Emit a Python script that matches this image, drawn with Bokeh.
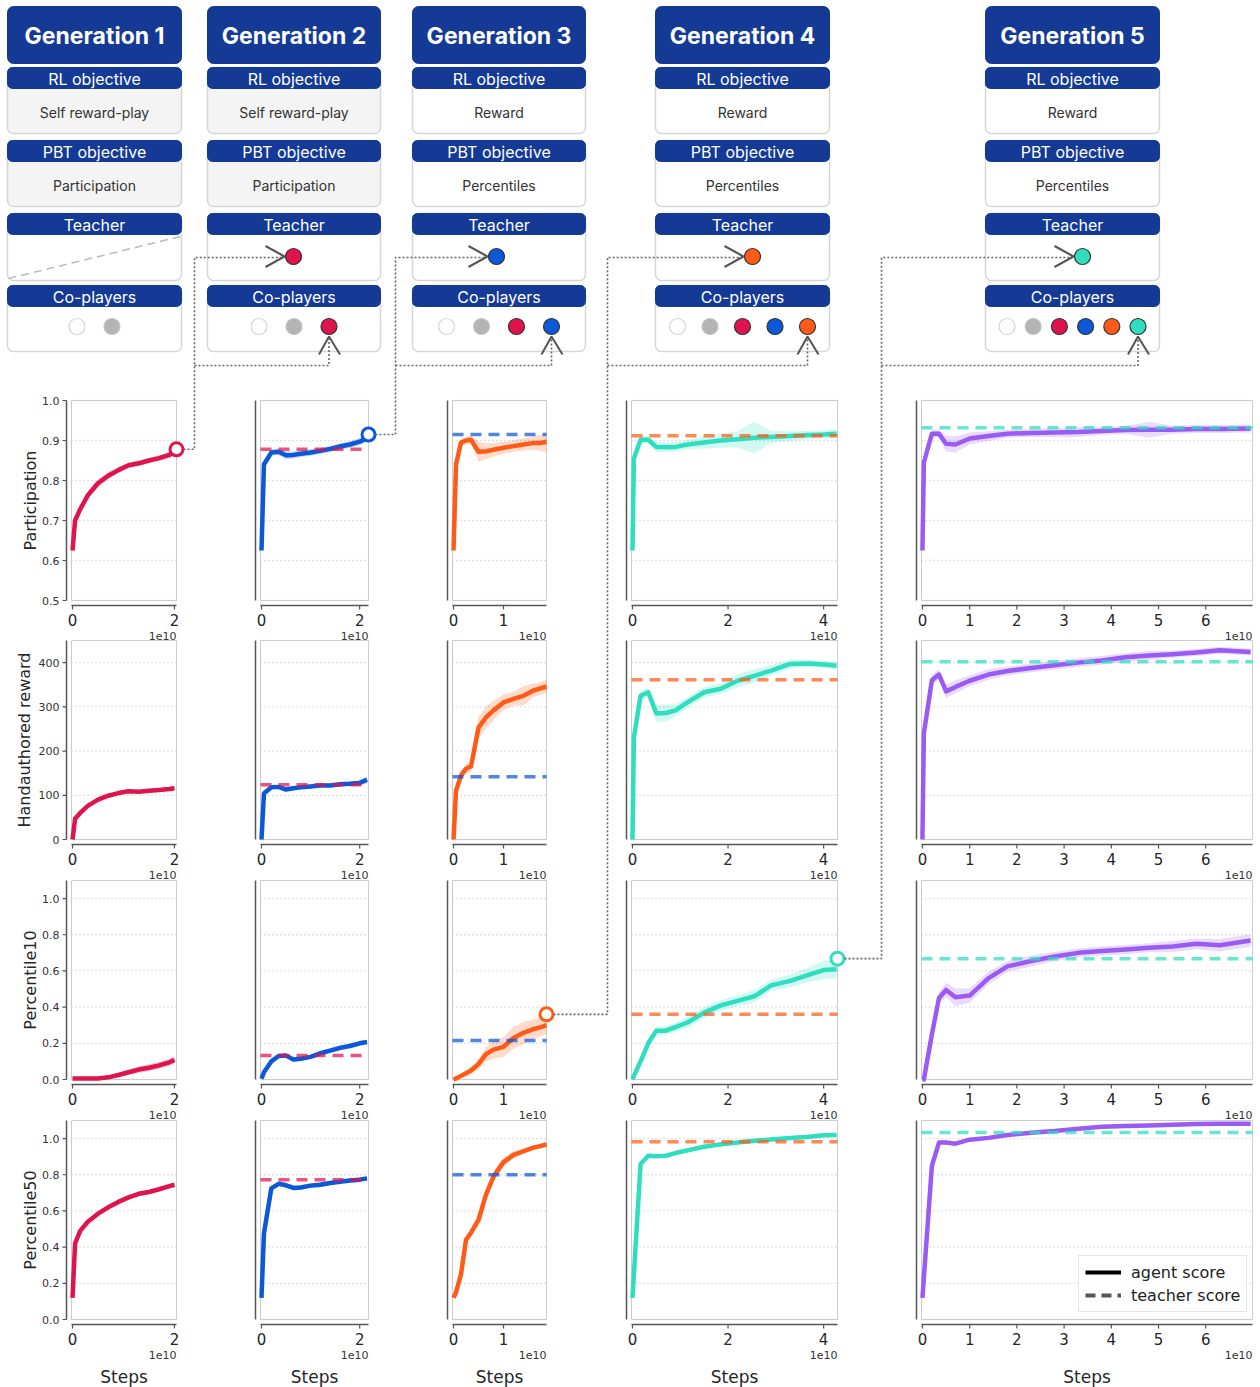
import math
from bokeh.plotting import figure
from bokeh.models import Range1d, Legend, LegendItem
from bokeh.core.properties import value
from bokeh.embed import file_html
from bokeh.resources import INLINE

# ---------------------------------------------------------------- data
GENERATIONS = ["Generation 1", "Generation 2", "Generation 3", "Generation 4", "Generation 5"]
RL_OBJECTIVE = ["Self reward-play", "Self reward-play", "Reward", "Reward", "Reward"]
PBT_OBJECTIVE = ["Participation", "Participation", "Percentiles", "Percentiles", "Percentiles"]
SECTION_TITLES = ["RL objective", "PBT objective", "Teacher", "Co-players"]
METRICS = ["Participation", "Handauthored reward", "Percentile10", "Percentile50"]
GEN_COLORS = ["#E0144C", "#0B58D9", "#FF5A17", "#2FDDBF", "#9A5AF4"]
COPLAYER_COLORS = ["#FFFFFF", "#B4B4B4", "#E0144C", "#0B58D9", "#FF5A17", "#2FDDBF"]
LEGEND_LABELS = ["agent score", "teacher score"]

# steps in units of 1e10
X_G1 = [0, 0.05, 0.15, 0.3, 0.5, 0.7, 0.9, 1.1, 1.3, 1.5, 1.7, 1.9, 2.0]
X_G2 = [0, 0.05, 0.2, 0.35, 0.5, 0.65, 0.8, 1.0, 1.2, 1.4, 1.6, 1.8, 2.0, 2.15]
X_G3 = [0, 0.05, 0.15, 0.25, 0.35, 0.5, 0.65, 0.8, 1.0, 1.2, 1.4, 1.6, 1.75, 1.86]
X_G4 = [0, 0.03, 0.17, 0.33, 0.5, 0.7, 0.9, 1.15, 1.5, 1.85, 2.2, 2.55, 2.9, 3.3, 3.7, 4.0, 4.27]
X_G5 = [0, 0.03, 0.2, 0.35, 0.5, 0.7, 1.0, 1.4, 1.8, 2.3, 2.8, 3.3, 3.8, 4.3, 4.8, 5.3, 5.8, 6.3, 6.95]

G1_PART = [0.625, 0.70, 0.728, 0.763, 0.793, 0.812, 0.826, 0.838, 0.843, 0.85, 0.856, 0.864, 0.87]
G1_PART_SD = [0.004, 0.006, 0.008, 0.009, 0.01, 0.009, 0.008, 0.007, 0.007, 0.007, 0.007, 0.008, 0.008]
G1_REW = [0, 47, 60, 76, 90, 99, 105, 109, 108, 110, 112, 114, 116]
G1_REW_SD = [1, 3, 4, 4, 5, 4, 4, 4, 4, 4, 4, 4, 5]
G1_P10 = [0.005, 0.005, 0.005, 0.005, 0.006, 0.012, 0.025, 0.04, 0.055, 0.065, 0.078, 0.095, 0.108]
G1_P10_SD = [0.002, 0.002, 0.002, 0.002, 0.003, 0.006, 0.01, 0.014, 0.018, 0.02, 0.02, 0.02, 0.02]
G1_P50 = [0.12, 0.42, 0.49, 0.54, 0.585, 0.62, 0.65, 0.675, 0.695, 0.705, 0.72, 0.737, 0.745]
G1_P50_SD = [0.005, 0.01, 0.012, 0.012, 0.014, 0.014, 0.013, 0.012, 0.012, 0.012, 0.012, 0.012, 0.012]

G2_PART = [0.625, 0.84, 0.87, 0.872, 0.863, 0.864, 0.867, 0.87, 0.874, 0.879, 0.885, 0.89, 0.897, 0.906]
G2_PART_SD = [0.004, 0.008, 0.008, 0.008, 0.01, 0.009, 0.008, 0.008, 0.008, 0.008, 0.008, 0.008, 0.009, 0.009]
G2_REW = [0, 104, 118, 119, 113, 116, 118, 120, 122, 122, 125, 126, 128, 135]
G2_REW_SD = [1, 5, 4, 4, 4, 4, 4, 4, 4, 4, 4, 5, 6, 8]
G2_P10 = [0.005, 0.04, 0.10, 0.13, 0.132, 0.11, 0.115, 0.125, 0.145, 0.16, 0.175, 0.185, 0.2, 0.207]
G2_P10_SD = [0.003, 0.008, 0.01, 0.01, 0.01, 0.01, 0.01, 0.012, 0.012, 0.014, 0.015, 0.014, 0.012, 0.01]
G2_P50 = [0.12, 0.475, 0.725, 0.75, 0.742, 0.727, 0.73, 0.74, 0.745, 0.755, 0.762, 0.768, 0.773, 0.78]
G2_P50_SD = [0.005, 0.01, 0.012, 0.012, 0.012, 0.012, 0.012, 0.012, 0.012, 0.012, 0.012, 0.012, 0.012, 0.012]

G3_PART = [0.625, 0.84, 0.895, 0.9, 0.902, 0.872, 0.873, 0.877, 0.882, 0.886, 0.89, 0.894, 0.894, 0.897]
G3_PART_SD = [0.004, 0.01, 0.01, 0.01, 0.01, 0.025, 0.02, 0.017, 0.015, 0.015, 0.015, 0.017, 0.02, 0.025]
G3_REW = [0, 110, 145, 160, 165, 253, 276, 292, 310, 318, 325, 337, 342, 346]
G3_REW_SD = [2, 10, 10, 10, 12, 25, 25, 22, 18, 15, 22, 15, 15, 15]
G3_P10 = [0.0, 0.005, 0.02, 0.035, 0.05, 0.085, 0.14, 0.165, 0.18, 0.23, 0.258, 0.278, 0.29, 0.30]
G3_P10_SD = [0.002, 0.005, 0.01, 0.015, 0.02, 0.03, 0.04, 0.05, 0.055, 0.06, 0.06, 0.055, 0.05, 0.05]
G3_P50 = [0.12, 0.15, 0.25, 0.44, 0.48, 0.55, 0.69, 0.79, 0.87, 0.91, 0.93, 0.95, 0.96, 0.967]
G3_P50_SD = [0.005, 0.01, 0.015, 0.02, 0.02, 0.03, 0.03, 0.03, 0.025, 0.02, 0.015, 0.012, 0.012, 0.012]

G4_PART = [0.625, 0.855, 0.902, 0.902, 0.884, 0.883, 0.884, 0.89, 0.895, 0.9, 0.903, 0.907, 0.909, 0.911, 0.914, 0.915, 0.917]
G4_PART_SD = [0.004, 0.01, 0.01, 0.01, 0.012, 0.012, 0.012, 0.012, 0.015, 0.018, 0.02, 0.04, 0.015, 0.012, 0.01, 0.01, 0.01]
G4_REW = [0, 231, 325, 333, 285, 286, 292, 310, 333, 341, 359, 370, 382, 397, 398, 396, 393]
G4_REW_SD = [2, 10, 10, 10, 20, 18, 15, 12, 12, 12, 15, 15, 12, 10, 8, 8, 8]
G4_P10 = [0.0, 0.02, 0.1, 0.2, 0.27, 0.27, 0.29, 0.315, 0.37, 0.41, 0.435, 0.46, 0.52, 0.545, 0.58, 0.605, 0.61]
G4_P10_SD = [0.002, 0.01, 0.02, 0.02, 0.025, 0.025, 0.025, 0.03, 0.03, 0.03, 0.03, 0.035, 0.03, 0.035, 0.04, 0.05, 0.05]
G4_P50 = [0.12, 0.25, 0.86, 0.905, 0.902, 0.905, 0.92, 0.935, 0.955, 0.968, 0.978, 0.988, 0.995, 1.003, 1.01, 1.018, 1.02]
G4_P50_SD = [0.005, 0.01, 0.01, 0.01, 0.01, 0.01, 0.01, 0.01, 0.01, 0.01, 0.01, 0.01, 0.01, 0.01, 0.01, 0.01, 0.01]

G5_PART = [0.625, 0.845, 0.917, 0.917, 0.892, 0.89, 0.905, 0.911, 0.917, 0.919, 0.92, 0.921, 0.924, 0.926, 0.927, 0.927, 0.929, 0.929, 0.93]
G5_PART_SD = [0.004, 0.01, 0.01, 0.01, 0.02, 0.02, 0.015, 0.012, 0.01, 0.01, 0.012, 0.012, 0.01, 0.01, 0.02, 0.01, 0.01, 0.01, 0.01]
G5_REW = [0, 240, 360, 373, 335, 345, 359, 373, 381, 388, 394, 400, 405, 412, 416, 419, 423, 428, 424]
G5_REW_SD = [2, 15, 12, 12, 15, 15, 12, 12, 10, 10, 10, 10, 10, 10, 10, 8, 8, 8, 8]
G5_P10 = [0.0, 0.0, 0.25, 0.45, 0.495, 0.455, 0.464, 0.56, 0.625, 0.655, 0.68, 0.7, 0.71, 0.718, 0.728, 0.735, 0.75, 0.742, 0.768]
G5_P10_SD = [0.002, 0.002, 0.02, 0.03, 0.04, 0.05, 0.04, 0.035, 0.03, 0.03, 0.025, 0.025, 0.025, 0.025, 0.025, 0.03, 0.03, 0.035, 0.035]
G5_P50 = [0.12, 0.23, 0.85, 0.978, 0.978, 0.972, 0.994, 1.004, 1.02, 1.032, 1.042, 1.055, 1.066, 1.07, 1.073, 1.076, 1.08, 1.082, 1.082]
G5_P50_SD = [0.005, 0.008, 0.008, 0.008, 0.008, 0.008, 0.008, 0.008, 0.008, 0.008, 0.008, 0.008, 0.008, 0.008, 0.008, 0.008, 0.008, 0.008, 0.008]

# teacher score per generation (None: no teacher)
TEACHER_PART = [None, 0.878, 0.915, 0.912, 0.932]
TEACHER_REW = [None, 124, 142, 361, 402]
TEACHER_P10 = [None, 0.133, 0.215, 0.36, 0.668]
TEACHER_P50 = [None, 0.773, 0.80, 0.983, 1.033]
# metric index used by PBT to select the next teacher from each generation
SELECT_METRIC = [0, 0, 2, 2]

# axes
XLIM = [(-0.02, 2.04), (-0.02, 2.18), (-0.02, 1.86), (-0.02, 4.29), (-0.02, 6.99)]
XTICKS = [[0, 2], [0, 2], [0, 1], [0, 2, 4], [0, 1, 2, 3, 4, 5, 6]]
XTICK_LABELS = [["0", "2"], ["0", "2"], ["0", "1"], ["0", "2", "4"], ["0", "1", "2", "3", "4", "5", "6"]]
YLIM = [(0.5, 1.0), (0, 450), (0, 1.1), (0, 1.1)]
YTICKS = [[0.5, 0.6, 0.7, 0.8, 0.9, 1.0], [0, 100, 200, 300, 400],
          [0.0, 0.2, 0.4, 0.6, 0.8, 1.0], [0.0, 0.2, 0.4, 0.6, 0.8, 1.0]]
YTICK_LABELS = [["0.5", "0.6", "0.7", "0.8", "0.9", "1.0"], ["0", "100", "200", "300", "400"],
                ["0.0", "0.2", "0.4", "0.6", "0.8", "1.0"], ["0.0", "0.2", "0.4", "0.6", "0.8", "1.0"]]

STEPS = [X_G1, X_G2, X_G3, X_G4, X_G5]
SERIES = [
    [(G1_PART, G1_PART_SD), (G1_REW, G1_REW_SD), (G1_P10, G1_P10_SD), (G1_P50, G1_P50_SD)],
    [(G2_PART, G2_PART_SD), (G2_REW, G2_REW_SD), (G2_P10, G2_P10_SD), (G2_P50, G2_P50_SD)],
    [(G3_PART, G3_PART_SD), (G3_REW, G3_REW_SD), (G3_P10, G3_P10_SD), (G3_P50, G3_P50_SD)],
    [(G4_PART, G4_PART_SD), (G4_REW, G4_REW_SD), (G4_P10, G4_P10_SD), (G4_P50, G4_P50_SD)],
    [(G5_PART, G5_PART_SD), (G5_REW, G5_REW_SD), (G5_P10, G5_P10_SD), (G5_P50, G5_P50_SD)],
]
TEACHERS = [TEACHER_PART, TEACHER_REW, TEACHER_P10, TEACHER_P50]

# ---------------------------------------------------------------- layout (page pixels)
PAGE_W, PAGE_H = 1260, 1387
COL_PX = [(71, 176), (260, 368), (452, 546), (631, 837), (921, 1252)]
ROW_PX = [(400, 600), (640, 839), (880, 1079), (1120, 1319)]
HEAD_X = [(7, 181), (207, 380), (412, 585), (655, 829), (985, 1159)]
TITLE_Y = (6, 63)
SECTION_Y = [(67, 88, 133), (140, 161, 206), (213, 234, 280), (285, 306, 351)]
TEACHER_CX = [None, 293, 496, 752, 1082]
COP_SPACING = [35, 35, 35, 32.5, 26.2]
COP_Y = 326
TEACHER_Y = 256
CONNECT_X = [194, 395, 607, 881]
CONNECT_Y = 365

NAVY = "#143A96"
PLOT_FONT_NAME = "DejaVu Sans"
PLOT_FONT = value(PLOT_FONT_NAME)
HEAD_FONT = value("Inter")

p = figure(width=PAGE_W, height=PAGE_H, x_range=Range1d(0, PAGE_W), y_range=Range1d(PAGE_H, 0),
           output_backend="svg", toolbar_location=None, min_border=0,
           x_axis_location=None, y_axis_location=None)
p.xgrid.visible = False
p.ygrid.visible = False
p.outline_line_color = None


def sub(xs, ys, xt, yt):
    return p.subplot(x_source=Range1d(*xs), y_source=Range1d(*ys),
                     x_target=Range1d(*xt), y_target=Range1d(*yt))


# ---------------------------------------------------------------- header
for g in range(5):
    x0, x1 = HEAD_X[g]
    cx = (x0 + x1) / 2
    p.quad(left=[x0], right=[x1], top=[TITLE_Y[0]], bottom=[TITLE_Y[1]],
           fill_color=NAVY, line_color=NAVY, border_radius=6)
    p.text(x=[cx], y=[(TITLE_Y[0] + TITLE_Y[1]) / 2 + 1], text=[GENERATIONS[g]],
           text_align="center", text_baseline="middle", text_color="white",
           text_font=HEAD_FONT, text_font_style="bold", text_font_size="23px")
    bodies = [RL_OBJECTIVE[g], PBT_OBJECTIVE[g], None, None]
    for s, (ytop, yband, ybot) in enumerate(SECTION_Y):
        fill = "#F4F4F4" if (s < 2 and g < 2) else "#FFFFFF"
        p.quad(left=[x0], right=[x1], top=[ytop], bottom=[ybot], fill_color=fill,
               line_color="#D6D6D6", line_width=1.5, border_radius=6)
        p.quad(left=[x0], right=[x1], top=[ytop], bottom=[yband], fill_color=NAVY,
               line_color=NAVY, border_radius=5)
        p.text(x=[cx], y=[(ytop + yband) / 2 + 0.5], text=[SECTION_TITLES[s]],
               text_align="center", text_baseline="middle", text_color="white",
               text_font=HEAD_FONT, text_font_size="16px")
        if bodies[s] is not None:
            p.text(x=[cx], y=[(yband + ybot) / 2 + 1], text=[bodies[s]],
                   text_align="center", text_baseline="middle", text_color="#333333",
                   text_font=HEAD_FONT, text_font_size="14px")
    # co-players
    n = g + 2
    xs = [cx + (i - (n - 1) / 2) * COP_SPACING[g] for i in range(n)]
    cols = COPLAYER_COLORS[:n]
    edges = ["#D4D4D4", "#C4C4C4"] + ["#333333"] * (n - 2)
    p.scatter(x=xs, y=[COP_Y] * n, size=16, fill_color=cols, line_color=edges, line_width=1.2)
    if g == 0:
        p.line(x=[x0 + 1, x1 - 1], y=[SECTION_Y[2][2] - 2, SECTION_Y[2][1] + 2],
               line_color="#BBBBBB", line_dash="8 5", line_width=1.5)
    else:
        tx = TEACHER_CX[g]
        p.scatter(x=[tx], y=[TEACHER_Y], size=16, fill_color=[COPLAYER_COLORS[g + 1]],
                  line_color="#333333", line_width=1.2)
        p.multi_line(xs=[[tx - 28, tx - 9, tx - 28], [xs[-1] - 10, xs[-1], xs[-1] + 11]],
                     ys=[[TEACHER_Y - 10.5, TEACHER_Y, TEACHER_Y + 10.5], [354, 336, 354]],
                     line_color="#555555", line_width=2)

# ---------------------------------------------------------------- panels
for g in range(5):
    xl = XLIM[g]
    cx0, cx1 = COL_PX[g]
    col = GEN_COLORS[g]
    for r in range(4):
        yl = YLIM[r]
        ry0, ry1 = ROW_PX[r]
        s = sub(xl, yl, (cx0, cx1), (ry1, ry0))
        ticks = YTICKS[r]
        s.segment(x0=[xl[0]] * len(ticks), x1=[xl[1]] * len(ticks), y0=ticks, y1=ticks,
                  line_color="#C4C4C4", line_dash="1 3", line_width=1.3)
        s.quad(left=[xl[0]], right=[xl[1]], bottom=[yl[0]], top=[yl[1]],
               fill_color=None, line_color="#CCCCCC", line_width=1)
        mean, sd = SERIES[g][r]
        xs = STEPS[g]
        s.varea(x=xs, y1=[m - d for m, d in zip(mean, sd)], y2=[m + d for m, d in zip(mean, sd)],
                fill_color=col, fill_alpha=0.22)
        s.line(x=xs, y=mean, line_color=col, line_width=4.5, line_join="round")
        if TEACHERS[r][g] is not None:
            tv = TEACHERS[r][g]
            s.line(x=[xl[0], xl[1]], y=[tv, tv], line_color=GEN_COLORS[g - 1], line_alpha=0.72,
                   line_width=3.5, line_dash="11 7")
        if g < 4 and SELECT_METRIC[g] == r:
            s.scatter(x=[xl[1]], y=[TEACHERS[r][g + 1]], size=13, fill_color="white",
                      line_color=col, line_width=3)

        # bottom spine with ticks
        sb = sub(xl, (0, 1), (cx0, cx1), (ry1 + 5, ry1 + 9))
        xt = XTICKS[g]
        sb.segment(x0=[xl[0]], x1=[xl[1]], y0=[0], y1=[0], line_color="#555555", line_width=1.5)
        sb.segment(x0=xt, x1=xt, y0=[0] * len(xt), y1=[1] * len(xt), line_color="#555555", line_width=1.2)
        sb.text(x=xt, y=[1] * len(xt), text=XTICK_LABELS[g], y_offset=10,
                text_align="center", text_baseline="middle", text_color="#262626",
                text_font=PLOT_FONT, text_font_size="15px")
        sb.text(x=[xl[1]], y=[1], text=["1e10"], y_offset=26,
                text_align="right", text_baseline="middle", text_color="#333333",
                text_font=PLOT_FONT, text_font_size="11px")
        if r == 3:
            sb.text(x=[(xl[0] + xl[1]) / 2], y=[1], text=["Steps"], y_offset=48,
                    text_align="center", text_baseline="middle", text_color="#262626",
                    text_font=PLOT_FONT, text_font_size="17px")

        # left spine
        sl = sub((0, 1), yl, (cx0 - 5, cx0 - 9), (ry1, ry0))
        sl.segment(x0=[0], x1=[0], y0=[yl[0]], y1=[yl[1]], line_color="#555555", line_width=1.5)
        if g == 0:
            sl.segment(x0=[0] * len(ticks), x1=[1] * len(ticks), y0=ticks, y1=ticks,
                       line_color="#555555", line_width=1.2)
            sl.text(x=[1] * len(ticks), y=ticks, text=YTICK_LABELS[r], x_offset=-3,
                    text_align="right", text_baseline="middle", text_color="#333333",
                    text_font=PLOT_FONT, text_font_size="11px")
            sl.text(x=[1], y=[(yl[0] + yl[1]) / 2], text=[METRICS[r]],
                    x_offset=(-38 if r == 1 else -32), angle=math.pi / 2,
                    text_align="center", text_baseline="middle", text_color="#262626",
                    text_font=PLOT_FONT, text_font_size="16px")

# ---------------------------------------------------------------- connectors
for g in range(4):
    r = SELECT_METRIC[g]
    yl = YLIM[r]
    ry0, ry1 = ROW_PX[r]
    tv = TEACHERS[r][g + 1]
    py = ry1 - (tv - yl[0]) / (yl[1] - yl[0]) * (ry1 - ry0)
    px = COL_PX[g][1] + 7
    vx = CONNECT_X[g]
    tx = TEACHER_CX[g + 1] - 10
    n = g + 3
    hcx = (HEAD_X[g + 1][0] + HEAD_X[g + 1][1]) / 2
    cpx = hcx + (n - 1 - (n - 1) / 2) * COP_SPACING[g + 1]
    p.multi_line(xs=[[px, vx, vx, tx], [vx, cpx, cpx]],
                 ys=[[py, py, TEACHER_Y + 1, TEACHER_Y + 1], [CONNECT_Y, CONNECT_Y, 338]],
                 line_color="#666666", line_width=1.6, line_dash="2 2")

# ---------------------------------------------------------------- legend
# legend proxies lie outside the visible ranges
r_agent = p.line(x=[-60, -50], y=[-60, -60], line_color="black", line_width=4)
r_teacher = p.line(x=[-60, -50], y=[-60, -60], line_color="#555555", line_width=4, line_dash="10 6")
legend = Legend(items=[LegendItem(label=LEGEND_LABELS[0], renderers=[r_agent]),
                       LegendItem(label=LEGEND_LABELS[1], renderers=[r_teacher])],
                location=(1078, 75), orientation="vertical",
                label_text_font=PLOT_FONT_NAME, label_text_font_size="16px", label_text_color="#222222",
                glyph_width=36, glyph_height=20, label_height=20, spacing=3, padding=6,
                margin=0, label_standoff=10, border_line_color="#CCCCCC", border_line_width=1,
                background_fill_alpha=0.9)
p.add_layout(legend)

open("out.html", "w").write(file_html(p, INLINE))
